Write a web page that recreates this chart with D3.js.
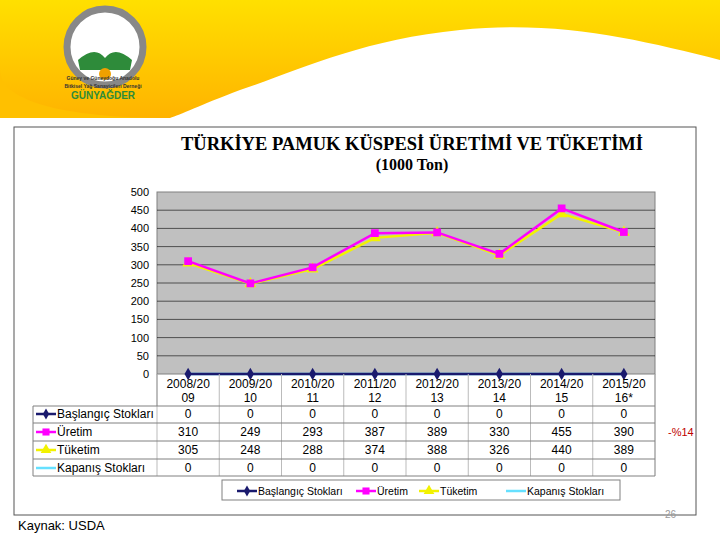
<!DOCTYPE html><html><head><meta charset="utf-8"><script src="https://cdn.jsdelivr.net/npm/d3@7"></script>
<style>body{margin:0;background:#fff}</style></head><body><svg id="c" width="720" height="540"></svg>
<script>
const categories=[["2008/20","09"],["2009/20","10"],["2010/20","11"],["2011/20","12"],["2012/20","13"],["2013/20","14"],["2014/20","15"],["2015/20","16*"]];
const baslangic=[0,0,0,0,0,0,0,0];
const uretim=[310,249,293,387,389,330,455,390];
const tuketim=[305,248,288,374,388,326,440,389];
const kapanis=[0,0,0,0,0,0,0,0];
const yTicks=[0,50,100,150,200,250,300,350,400,450,500];
const series=[
 {name:"Başlangıç Stokları",vals:baslangic,color:"#1a1a6e",sym:d3.symbolDiamond},
 {name:"Üretim",vals:uretim,color:"#ff00ff",sym:d3.symbolSquare},
 {name:"Tüketim",vals:tuketim,color:"#f2f200",sym:d3.symbolTriangle},
 {name:"Kapanış Stokları",vals:kapanis,color:"#66e0ff",sym:null}];
const svg=d3.select("#c");const F="Liberation Sans, Arial, sans-serif";
const defs=svg.append("defs");
const g=defs.append("linearGradient").attr("id","wg").attr("x1",0).attr("y1",0).attr("x2",0).attr("y2",1);
g.append("stop").attr("offset",0).attr("stop-color","#ffe000");g.append("stop").attr("offset",1).attr("stop-color","#ffb300");
svg.append("path").attr("d","M0,0 L720,0 L720,60 C640,40 560,20 460,30 C360,40 300,70 240,90 C200,105 180,115 170,118 L0,118 Z").attr("fill","url(#wg)");
svg.append("path").attr("d","M0,118 L0,70 C0,100 60,118 170,118 Z").attr("fill","#ffc000");
svg.append("circle").attr("cx",105).attr("cy",47).attr("r",38).attr("fill","#fff").attr("stroke","#888").attr("stroke-width",7);
svg.append("path").attr("d","M78,60 Q95,45 105,58 Q115,45 132,60 L130,70 L80,70 Z").attr("fill","#2e8b3a");
svg.append("circle").attr("cx",105).attr("cy",74).attr("r",6).attr("fill","#f0a000");
[["Güney ve Güneydoğu Anadolu",80,"#333",5],["Bitkisel Yağ Sanayicileri Derneği",88,"#333",5],["GÜNYAĞDER",99,"#2e8b3a",10]].forEach(t=>svg.append("text").attr("x",103).attr("y",t[1]).attr("text-anchor","middle").attr("font-family",F).attr("font-weight","bold").attr("font-size",t[3]).attr("fill",t[2]).text(t[0]));
svg.append("rect").attr("x",14).attr("y",127).attr("width",682).attr("height",388).attr("fill","#fff").attr("stroke","#555");
svg.append("text").attr("x",412).attr("y",150).attr("text-anchor","middle").attr("font-family","Liberation Serif, serif").attr("font-weight","bold").attr("font-size",18.5).text("TÜRKİYE PAMUK KÜSPESİ ÜRETİMİ VE TÜKETİMİ");
svg.append("text").attr("x",412).attr("y",170).attr("text-anchor","middle").attr("font-family","Liberation Serif, serif").attr("font-weight","bold").attr("font-size",16).text("(1000 Ton)");
const x=d3.scaleBand().domain(d3.range(8)).range([157,655]);
const y=d3.scaleLinear().domain([0,500]).range([374,192]);
svg.append("rect").attr("x",157).attr("y",192).attr("width",498).attr("height",182).attr("fill","#c0c0c0").attr("stroke","#808080");
svg.append("g").selectAll("line").data(yTicks.slice(1,-1)).join("line").attr("x1",157).attr("x2",655).attr("y1",d=>y(d)).attr("y2",d=>y(d)).attr("stroke","#000").attr("stroke-width",0.6);
svg.append("g").attr("transform","translate(157,0)").call(d3.axisLeft(y).tickValues(yTicks).tickSize(0).tickPadding(8)).call(a=>a.select(".domain").remove()).selectAll("text").attr("font-family",F).attr("font-size",11);
const cx=i=>x(i)+x.bandwidth()/2;
series.slice().reverse().forEach(s=>{
 svg.append("path").datum(s.vals).attr("fill","none").attr("stroke",s.color).attr("stroke-width",2.5).attr("d",d3.line().x((d,i)=>cx(i)).y(d=>y(d)));
 if(s.sym) svg.append("g").selectAll("path").data(s.vals).join("path").attr("transform",(d,i)=>`translate(${cx(i)},${y(d)})`).attr("d",d3.symbol(s.sym,s.sym===d3.symbolDiamond?45:60)).attr("fill",s.color);
});
const T=svg.append("g").attr("font-family",F).attr("font-size",12);
T.append("line").attr("x1",157).attr("x2",157).attr("y1",374).attr("y2",406).attr("stroke","#808080");
T.append("line").attr("x1",655).attr("x2",655).attr("y1",374).attr("y2",476).attr("stroke","#808080");
d3.range(9).forEach(i=>T.append("line").attr("x1",157+i*x.bandwidth()).attr("x2",157+i*x.bandwidth()).attr("y1",374).attr("y2",476).attr("stroke","#bbb"));
categories.forEach((c,i)=>{T.append("text").attr("x",cx(i)).attr("y",388).attr("text-anchor","middle").text(c[0]);T.append("text").attr("x",cx(i)).attr("y",402).attr("text-anchor","middle").text(c[1]);});
[406,423,441,459,476].forEach(yy=>T.append("line").attr("x1",33).attr("x2",655).attr("y1",yy).attr("y2",yy).attr("stroke","#808080"));
T.append("line").attr("x1",33).attr("x2",33).attr("y1",406).attr("y2",476).attr("stroke","#808080");
series.forEach((s,r)=>{const yy=414+r*18;
 T.append("line").attr("x1",36).attr("x2",56).attr("y1",yy).attr("y2",yy).attr("stroke",s.color).attr("stroke-width",2.5);
 if(s.sym)T.append("path").attr("transform",`translate(46,${yy})`).attr("d",d3.symbol(s.sym,s.sym===d3.symbolDiamond?35:50)).attr("fill",s.color);
 T.append("text").attr("x",57).attr("y",yy+4).text(s.name);
 s.vals.forEach((v,i)=>T.append("text").attr("x",cx(i)).attr("y",yy+4).attr("text-anchor","middle").text(v));
});
svg.append("text").attr("x",668).attr("y",436).attr("fill","#c00000").attr("font-family",F).attr("font-size",11).text("-%14");
svg.append("rect").attr("x",222).attr("y",480).attr("width",398).attr("height",20).attr("fill","#fff").attr("stroke","#808080");
const lx=[237,356,419,506];
series.forEach((s,i)=>{const L=svg.append("g").attr("transform",`translate(${lx[i]},491)`);
 L.append("line").attr("x1",0).attr("x2",20).attr("stroke",s.color).attr("stroke-width",2.5);
 if(s.sym)L.append("path").attr("transform","translate(10,0)").attr("d",d3.symbol(s.sym,s.sym===d3.symbolDiamond?35:50)).attr("fill",s.color);
 L.append("text").attr("x",21).attr("y",4).attr("font-family",F).attr("font-size",10.5).text(s.name);});
svg.append("text").attr("x",18).attr("y",530).attr("font-family",F).attr("font-size",13).text("Kaynak: USDA");
svg.append("text").attr("x",665).attr("y",518).attr("font-family",F).attr("font-size",10).attr("fill","#999").text("26");
</script></body></html>
